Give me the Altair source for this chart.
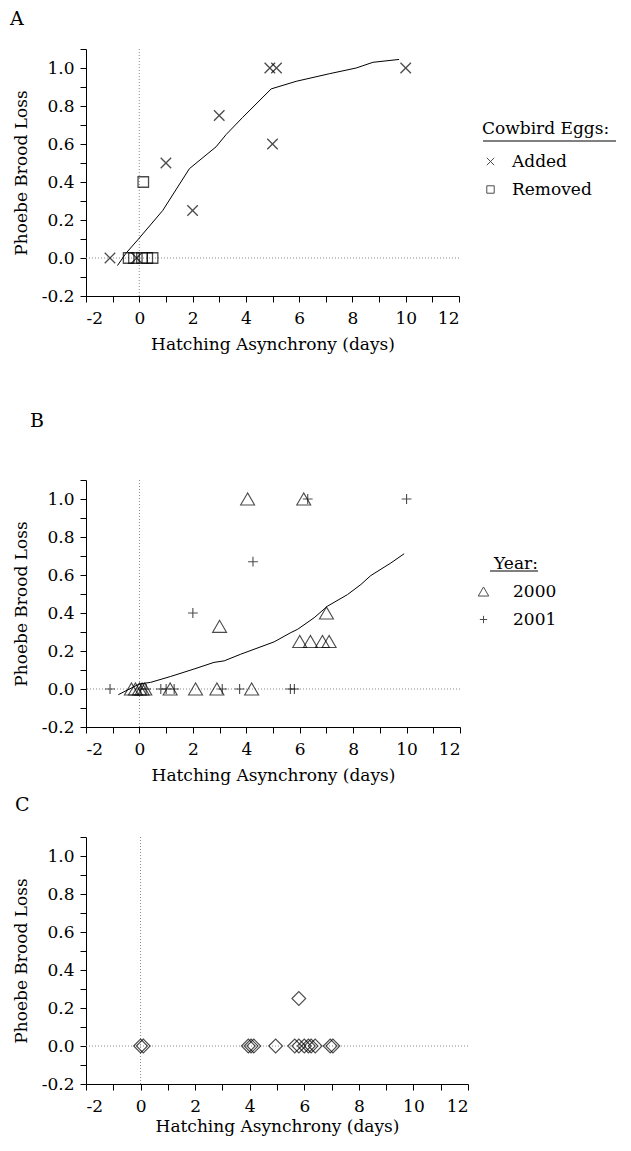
import altair as alt
import pandas as pd

# ---------------- data ----------------
# Panel A
a_added_x = [-1.1, -0.1, 1.0, 2.0, 3.0, 4.9, 5.15, 5.0, 10.0]
a_added_y = [0.0, 0.0, 0.5, 0.25, 0.75, 1.0, 1.0, 0.6, 1.0]
a_removed_x = [0.15, -0.4, -0.2, 0.1, 0.3, 0.5]
a_removed_y = [0.4, 0.0, 0.0, 0.0, 0.0, 0.0]
a_curve_x = [-0.82, -0.5, -0.06, 0.88, 1.88, 2.88, 3.26, 3.88, 4.95, 5.89, 7.14, 8.14, 8.77, 9.75]
a_curve_y = [-0.04, 0.025, 0.095, 0.25, 0.47, 0.585, 0.65, 0.74, 0.89, 0.93, 0.97, 1.0, 1.03, 1.045]

# Panel B
b2000_x = [4.05, 6.15, 3.0, 7.0, 6.0, 6.4, 6.85, 7.1, -0.3, -0.15, 0.0, 0.1, 0.2, 1.15, 2.1, 2.9, 4.2]
b2000_y = [1.0, 1.0, 0.33, 0.4, 0.25, 0.25, 0.25, 0.25, 0, 0, 0, 0, 0, 0, 0, 0, 0]
b2001_x = [10.0, 6.3, 4.25, 2.0, -1.1, 0.05, 0.25, 0.8, 1.0, 1.3, 3.1, 3.75, 5.65, 5.8]
b2001_y = [1.0, 1.0, 0.67, 0.4, 0, 0, 0, 0, 0, 0, 0, 0, 0, 0]
b_curve_x = [-0.79, -0.01, 0.42, 1.17, 2.04, 2.79, 3.17, 3.79, 4.29, 5.04, 5.67, 5.92, 6.54, 7.04, 7.79, 8.29, 8.66, 9.41, 9.91]
b_curve_y = [-0.03, 0.026, 0.035, 0.066, 0.105, 0.14, 0.148, 0.183, 0.209, 0.248, 0.297, 0.314, 0.375, 0.436, 0.497, 0.55, 0.597, 0.663, 0.712]

# Panel C
c_x = [0.0, 0.1, 3.95, 4.05, 4.15, 4.95, 5.65, 5.8, 6.0, 6.15, 6.25, 6.4, 6.95, 7.05, 5.8]
c_y = [0, 0, 0, 0, 0, 0, 0, 0, 0, 0, 0, 0, 0, 0, 0.25]

x_ticks = list(range(-2, 13))
y_ticks = [round(-0.2 + 0.1 * i, 1) for i in range(14)]

FONT = "DejaVu Serif"
X_PATH = "M-1,-1L1,1M-1,1L1,-1"
PLUS_PATH = "M-0.7,0L0.7,0M0,-0.7L0,0.7"


def X(title_pad=10):
    return alt.X(
        "x:Q",
        scale=alt.Scale(domain=[-2, 12], nice=False, zero=False),
        axis=alt.Axis(
            values=x_ticks,
            labelExpr="datum.value % 2 == 0 ? '' + datum.value : ''",
            title="Hatching Asynchrony (days)",
            titlePadding=title_pad,
        ),
    )


def Y():
    return alt.Y(
        "y:Q",
        scale=alt.Scale(domain=[-0.2, 1.1], nice=False, zero=False),
        axis=alt.Axis(
            values=y_ticks,
            labelExpr="(abs(round(datum.value * 10)) % 2 == 0 && datum.value < 1.05) ? replace(format(datum.value, '.1f'), '\u2212', '-') : ''",
            title="Phoebe Brood Loss",
        ),
    )


def ref_lines(tp):
    v = alt.Chart(pd.DataFrame({"x": [0]})).mark_rule(
        color="#8a8a8a", strokeDash=[1, 2], strokeWidth=1
    ).encode(x=X(tp))
    h = alt.Chart(pd.DataFrame({"y": [0]})).mark_rule(
        color="#8a8a8a", strokeDash=[1, 2], strokeWidth=1
    ).encode(y=Y())
    return v, h


def letter(t, dx, dy):
    return alt.Chart(pd.DataFrame({"t": [t]})).mark_text(
        align="left", baseline="top", font=FONT, fontSize=19, color="black"
    ).encode(text="t:N", x=alt.value(dx), y=alt.value(dy))


def underline(x1, x2, yv):
    return alt.Chart(pd.DataFrame({"u": [0]})).mark_rule(color="black", strokeWidth=1).encode(
        x=alt.value(x1), x2=alt.value(x2), y=alt.value(yv)
    )


def spacer(yv):
    # invisible rule that fixes the bottom extent of a panel
    return alt.Chart(pd.DataFrame({"u": [0]})).mark_rule(strokeOpacity=0, strokeWidth=0.1).encode(
        x=alt.value(0), x2=alt.value(1), y=alt.value(yv)
    )


# ---------------- panel A ----------------
dfA = pd.DataFrame(
    {
        "x": a_added_x + a_removed_x,
        "y": a_added_y + a_removed_y,
        "eggs": ["Added"] * len(a_added_x) + ["Removed"] * len(a_removed_x),
    }
)
dfA_line = pd.DataFrame({"x": a_curve_x, "y": a_curve_y})
vA, hA = ref_lines(10)
ptsA = alt.Chart(dfA).mark_point(filled=False, color="black", size=110, strokeWidth=1.3).encode(
    x=X(10),
    y=Y(),
    shape=alt.Shape(
        "eggs:N",
        scale=alt.Scale(domain=["Added", "Removed"], range=[X_PATH, "square"]),
        legend=alt.Legend(
            title="Cowbird Eggs:",
            orient="none",
            legendX=396,
            legendY=72,
            titlePadding=15,
            labelOffset=13,
            symbolSize=55,
        ),
    ),
)
lineA = alt.Chart(dfA_line).mark_line(color="black", strokeWidth=1).encode(x=X(10), y=Y())
panelA = alt.layer(
    vA, hA, lineA, ptsA, letter("A", -76, -39), underline(397, 530, 92), spacer(363)
).properties(width=373, height=247)

# ---------------- panel B ----------------
dfB = pd.DataFrame(
    {
        "x": b2000_x + b2001_x,
        "y": b2000_y + b2001_y,
        "year": ["2000"] * len(b2000_x) + ["2001"] * len(b2001_x),
    }
)
dfB_line = pd.DataFrame({"x": b_curve_x, "y": b_curve_y})
vB, hB = ref_lines(10)
ptsB = alt.Chart(dfB).mark_point(filled=False, color="black", size=196, strokeWidth=1.1).encode(
    x=X(10),
    y=Y(),
    shape=alt.Shape(
        "year:N",
        scale=alt.Scale(domain=["2000", "2001"], range=["triangle-up", PLUS_PATH]),
        legend=alt.Legend(
            title="Year:",
            orient="none",
            legendX=389,
            legendY=76,
            titleAnchor="middle",
            titlePadding=10,
            labelOffset=21,
            symbolSize=110,
        ),
    ),
)
lineB = alt.Chart(dfB_line).mark_line(color="black", strokeWidth=1).encode(x=X(10), y=Y())
panelB = alt.layer(
    vB, hB, lineB, ptsB, letter("B", -56, -68), underline(404, 452, 91), spacer(316)
).properties(width=374, height=247)

# ---------------- panel C ----------------
dfC = pd.DataFrame({"x": c_x, "y": c_y})
vC, hC = ref_lines(4)
ptsC = alt.Chart(dfC).mark_point(
    filled=False, color="black", shape="diamond", size=190, strokeWidth=1.1
).encode(x=X(4), y=Y())
panelC = alt.layer(vC, hC, ptsC, letter("C", -71, -41)).properties(width=382, height=247)

chart = (
    alt.vconcat(panelA, panelB, panelC, spacing=0)
    .resolve_scale(shape="independent")
    .properties(padding={"left": 2, "top": 2, "right": 0, "bottom": 4})
    .configure_view(stroke=None)
    .configure_axis(
        grid=False,
        domainColor="black",
        tickColor="black",
        domainWidth=1,
        tickWidth=1,
        tickSize=6,
        labelFont=FONT,
        labelFontSize=17,
        labelColor="black",
        titleFont=FONT,
        titleFontSize=17,
        titleFontWeight="normal",
        titleColor="black",
    )
    .configure_axisX(labelPadding=8)
    .configure_axisY(labelPadding=6, titlePadding=11)
    .configure_legend(
        titleFont=FONT,
        titleFontSize=17,
        titleFontWeight="normal",
        titleColor="black",
        labelFont=FONT,
        labelFontSize=17,
        labelColor="black",
        symbolStrokeColor="black",
        symbolStrokeWidth=1,
        rowPadding=10,
    )
)

chart.save("out.html", embed_options={"renderer": "svg", "actions": False})
